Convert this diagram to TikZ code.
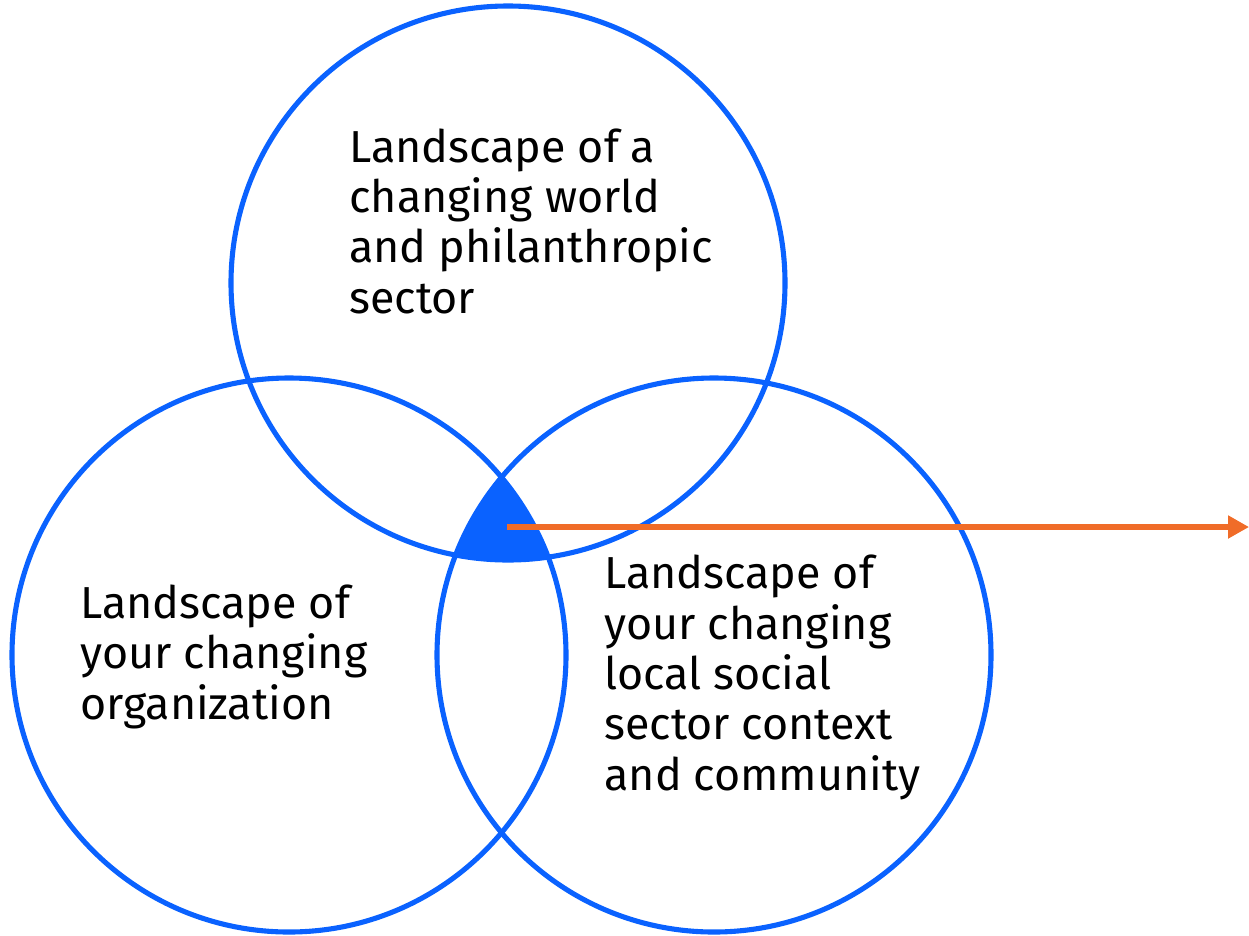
\documentclass[tikz,border=0pt]{standalone}
\usepackage{fontspec}
\setmainfont{Fira Sans}
\usetikzlibrary{arrows.meta}
\definecolor{ringblue}{RGB}{10,98,255}
\definecolor{arroworange}{RGB}{240,108,40}

\begin{document}
\begin{tikzpicture}[ring/.style={draw=ringblue,line width=2.9pt},
                    label/.style={align=left,anchor=base west,inner sep=0pt,
                                  font=\fontsize{25.5}{28.6}\selectfont},
                    pointer/.style={draw=arroworange,line width=2.9pt,
                                    -{Triangle[length=0.42cm,width=0.44cm]}}]
   \useasboundingbox (0,0) rectangle (24.98,-18.70);

   \coordinate (W) at (10.16,-5.66);
   \coordinate (O) at (5.78,-13.10);
   \coordinate (S) at (14.28,-13.10);

   % common part of the three landscapes
   \begin{scope}
     \clip (W) circle (5.54);
     \clip (O) circle (5.54);
     \fill[ringblue] (S) circle (5.54);
   \end{scope}

   \node[ring,circle,minimum size=11.08cm] (world) at (W) {};
   \node[ring,circle,minimum size=11.08cm] (org)   at (O) {};
   \node[ring,circle,minimum size=11.08cm] (local) at (S) {};

   % base west sits on the last line
   \node[label] (worldtxt) at (6.98,-6.26)
        {Landscape of a\\changing world\\and philanthropic\\sector};
   \node[label] (orgtxt) at (1.60,-14.38)
        {Landscape of\\your changing\\organization};
   \node[label] (localtxt) at (12.08,-15.80)
        {Landscape of\\your changing\\local social\\sector context\\and community};

   \coordinate (core) at (10.14,-10.54);
   \coordinate (tip)  at (24.98,-10.54);
   \draw[pointer] (core) -- (tip);
\end{tikzpicture}
\end{document}
